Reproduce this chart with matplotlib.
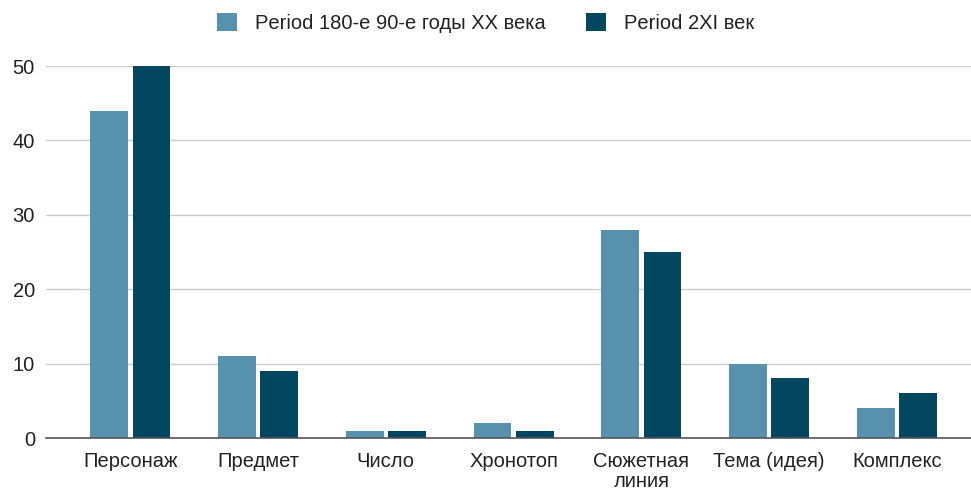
import numpy as np
import matplotlib.pyplot as plt

categories = ['Персонаж', 'Предмет', 'Число', 'Хронотоп', 'Сюжетная\nлиния', 'Тема (идея)', 'Комплекс']
series_a = [44, 11, 1, 2, 28, 10, 4]
series_b = [50, 9, 1, 1, 25, 8, 6]
label_a = 'Period 180-е 90-е годы XX века'
label_b = 'Period 2XI век'

plt.rcParams['font.family'] = ['Liberation Sans', 'DejaVu Sans']

fig = plt.figure(figsize=(9.71, 4.88), dpi=100)
ax = fig.add_axes([46/971, 50/488, 925/971, 372/488])

x = np.arange(len(categories))
w = 0.295
ax.bar(x - 0.165, series_a, w, color='#5891AD', label=label_a, zorder=3)
ax.bar(x + 0.165, series_b, w, color='#034660', label=label_b, zorder=3)

ax.set_xlim(-0.66, 6.58)
ax.set_ylim(0, 50)
ax.set_yticks([0, 10, 20, 30, 40, 50])
ax.set_xticks(x)
ax.set_xticklabels(categories, fontsize=14.5, color='#222222', va='top', linespacing=1.05)
ax.tick_params(axis='y', labelsize=14.5, colors='#222222', length=0, pad=8)
ax.tick_params(axis='x', length=0, pad=10)
ax.grid(axis='y', color='#cccccc', linewidth=1, zorder=0)
for s in ['top', 'right', 'left']:
    ax.spines[s].set_visible(False)
ax.spines['bottom'].set_color('#555555')
ax.spines['bottom'].set_linewidth(1.2)
ax.spines['bottom'].set_zorder(4)

fig.legend(loc='upper center', bbox_to_anchor=(0.5, 1.01), ncol=2, frameon=False,
           fontsize=14.5, handlelength=1.0, handleheight=1.0, columnspacing=2.0,
           handletextpad=0.9, labelcolor='#222222')

fig.savefig('out.png', dpi=100)
